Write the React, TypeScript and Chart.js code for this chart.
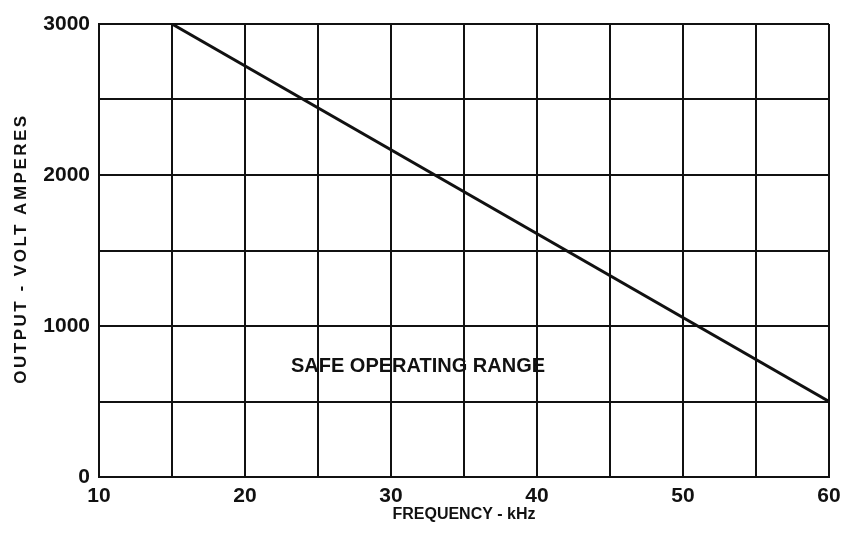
import React, { useEffect, useRef } from "react";
import { Chart, registerables } from "chart.js";

Chart.register(...registerables);

// Data
const frequencyKHz = [15, 60];
const outputVA = [3000, 500];

const xMin = 10, xMax = 60, xStep = 5;
const yMin = 0, yMax = 3000, yStep = 500;
const xTickLabels = [10, 20, 30, 40, 50, 60];
const yTickLabels = [0, 1000, 2000, 3000];

const xTitle = "FREQUENCY - kHz";
const yTitle = "OUTPUT - VOLT AMPERES";
const regionLabel = "SAFE OPERATING RANGE";
const regionLabelAt = { x: 31.85, y: 730 };

const FONT = "'Liberation Sans', Arial, sans-serif";

const textPlugin = {
  id: "textPlugin",
  beforeDraw(chart: any) {
    const ctx = chart.ctx;
    ctx.save();
    ctx.fillStyle = "#ffffff";
    ctx.fillRect(0, 0, chart.width, chart.height);
    ctx.restore();
  },
  afterDraw(chart: any) {
    const ctx = chart.ctx;
    const area = chart.chartArea;
    const xs = chart.scales.x;
    const ys = chart.scales.y;
    ctx.save();
    ctx.fillStyle = "#111";
    ctx.textAlign = "center";
    ctx.textBaseline = "middle";
    // region label
    ctx.font = `bold 20px ${FONT}`;
    ctx.fillText(regionLabel, xs.getPixelForValue(regionLabelAt.x), ys.getPixelForValue(regionLabelAt.y));
    // x title
    ctx.font = `bold 16px ${FONT}`;
    ctx.fillText(xTitle, (area.left + area.right) / 2, 515);
    // y title
    ctx.translate(21, (area.top + area.bottom) / 2 - 2);
    ctx.rotate(-Math.PI / 2);
    ctx.font = `bold 17px ${FONT}`;
    try { (ctx as any).letterSpacing = "2.5px"; } catch (e) {}
    ctx.fillText(yTitle, 0, 0);
    ctx.restore();
  },
};

export default function App() {
  const ref = useRef<HTMLCanvasElement | null>(null);
  useEffect(() => {
    document.body.style.margin = "0";
    const canvas = ref.current;
    if (!canvas) return;
    const chart = new Chart(canvas, {
      type: "scatter",
      data: {
        datasets: [
          {
            data: frequencyKHz.map((f, i) => ({ x: f, y: outputVA[i] })),
            showLine: true,
            borderColor: "#111",
            borderWidth: 3,
            pointRadius: 0,
            tension: 0,
          },
        ],
      },
      options: {
        animation: false,
        responsive: false,
        maintainAspectRatio: false,
        layout: { padding: { left: 0, right: 14, top: 24, bottom: 0 } },
        plugins: { legend: { display: false }, tooltip: { enabled: false } },
        scales: {
          x: {
            type: "linear",
            min: xMin,
            max: xMax,
            ticks: {
              stepSize: xStep,
              color: "#111",
              font: { family: FONT, size: 21, weight: "bold" },
              padding: 7,
              maxRotation: 0,
              autoSkip: false,
              callback: (v: any) => (xTickLabels.includes(Number(v)) ? String(v) : ""),
            },
            grid: { color: "#111", lineWidth: 2, drawTicks: false },
            border: { color: "#111", width: 2 },
            afterFit: (s: any) => { s.height = 56; s.paddingLeft = 0; s.paddingRight = 0; },
          },
          y: {
            type: "linear",
            min: yMin,
            max: yMax,
            ticks: {
              stepSize: yStep,
              color: "#111",
              font: { family: FONT, size: 21, weight: "bold" },
              padding: 9,
              autoSkip: false,
              callback: (v: any) => (yTickLabels.includes(Number(v)) ? String(v) : ""),
            },
            grid: { color: "#111", lineWidth: 2, drawTicks: false },
            border: { color: "#111", width: 2 },
            afterFit: (s: any) => { s.width = 99; s.paddingTop = 0; s.paddingBottom = 0; },
          },
        },
      },
      plugins: [textPlugin],
    });
    return () => chart.destroy();
  }, []);
  return (
    <div style={{ position: "absolute", left: 0, top: 0, width: 843, height: 533 }}>
      <canvas ref={ref} width={843} height={533} style={{ width: 843, height: 533 }} />
    </div>
  );
}
